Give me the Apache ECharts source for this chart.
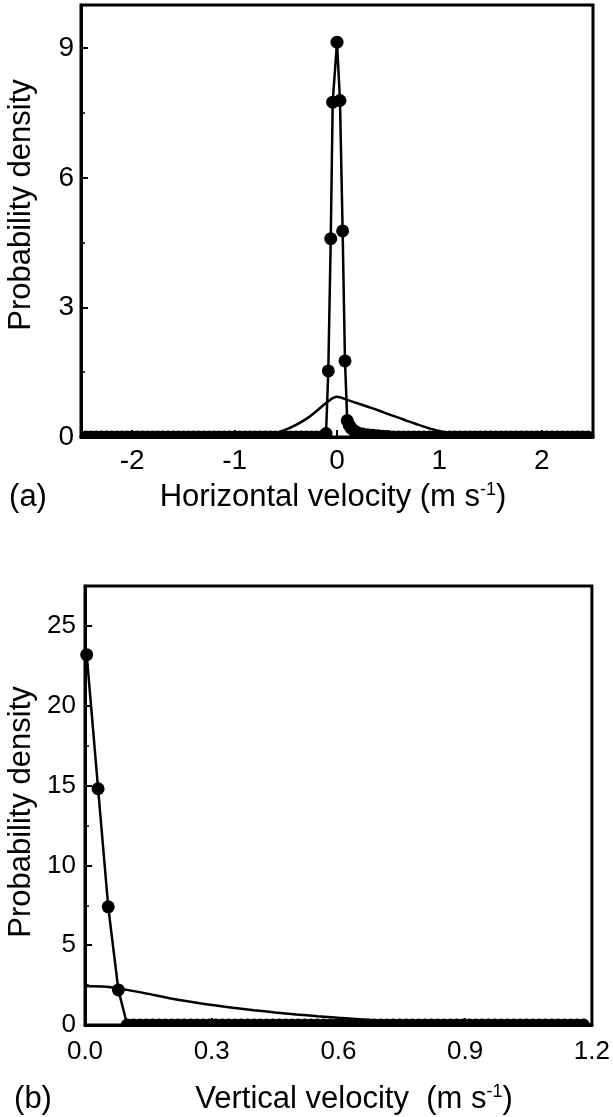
<!DOCTYPE html>
<html><head><meta charset="utf-8">
<script src="https://cdn.jsdelivr.net/npm/echarts@6/dist/echarts.min.js"></script>
<style>html,body{margin:0;padding:0;background:#fff}#c{width:613px;height:1117px}</style>
</head><body><div id="c"></div>
<script>
// ---------- Panel (a): horizontal velocity ----------
const hDotX = [-2.45,-2.40,-2.35,-2.30,-2.25,-2.20,-2.15,-2.10,-2.05,-2.00,-1.95,-1.90,-1.85,-1.80,-1.75,-1.70,-1.65,-1.60,-1.55,-1.50,-1.45,-1.40,-1.35,-1.30,-1.25,-1.20,-1.15,-1.10,-1.05,-1.00,-0.95,-0.90,-0.85,-0.80,-0.75,-0.70,-0.65,-0.60,-0.55,-0.50,-0.45,-0.40,-0.35,-0.30,-0.25,-0.20,-0.15,
  -0.130,-0.107,-0.085,-0.061,-0.042,0.000,0.029,0.055,0.078,0.100,0.120,0.140,0.170,0.200,0.250,0.300,0.350,0.400,0.450,0.500,
  0.55,0.60,0.65,0.70,0.75,0.80,0.85,0.90,0.95,1.00,1.05,1.10,1.15,1.20,1.25,1.30,1.35,1.40,1.45,1.50,1.55,1.60,1.65,1.70,1.75,1.80,1.85,1.90,1.95,2.00,2.05,2.10,2.15,2.20,2.25,2.30,2.35,2.40,2.45];
const hDotY = [0,0,0,0,0,0,0,0,0,0,0,0,0,0,0,0,0,0,0,0,0,0,0,0,0,0,0,0,0,0,0,0,0,0,0,0,0,0,0,0,0,0,0,0,0,0,0,
  0.02,0.08,1.53,4.59,7.75,9.14,7.79,4.77,1.76,0.38,0.27,0.20,0.14,0.10,0.07,0.05,0.04,0.03,0.02,0.01,
  0,0,0,0,0,0,0,0,0,0,0,0,0,0,0,0,0,0,0,0,0,0,0,0,0,0,0,0,0,0,0,0,0,0,0,0,0,0,0];
const hCurveX = [-2.5,-2.4,-2.3,-2.2,-2.1,-2.0,-1.9,-1.8,-1.7,-1.6,-1.5,-1.4,-1.3,-1.2,-1.1,-1.0,-0.9,-0.8,-0.7,-0.6,-0.5,-0.4,-0.3,-0.2,-0.1,0.0,0.1,0.2,0.3,0.4,0.5,0.6,0.7,0.8,0.9,1.0,1.1,1.2,1.3,1.4,1.5,1.6,1.7,1.8,1.9,2.0,2.1,2.2,2.3,2.4,2.5];
const hCurveY = [0,0,0,0,0,0,0,0,0,0,0,0,0,0,0,0,0,0.01,0.04,0.09,0.17,0.28,0.42,0.60,0.80,0.93,0.86,0.78,0.70,0.62,0.53,0.45,0.36,0.28,0.20,0.14,0.09,0.05,0.02,0.01,0,0,0,0,0,0,0,0,0,0,0];
const hXTicks = [-2,-1,0,1,2];

// ---------- Panel (b): vertical velocity ----------
const vDotX = [0.004,0.031,0.055,0.079,
  0.100,0.115,0.130,0.145,0.160,0.175,0.190,0.205,0.220,0.235,0.250,0.265,0.280,0.295,0.310,0.325,0.340,0.355,0.370,0.385,0.400,0.415,0.430,0.445,0.460,0.475,0.490,0.505,0.520,0.535,0.550,0.565,0.580,0.595,0.610,0.625,0.640,0.655,0.670,0.685,0.700,0.715,0.730,0.745,0.760,0.775,0.790,0.805,0.820,0.835,0.850,0.865,0.880,0.895,0.910,0.925,0.940,0.955,0.970,0.985,1.000,1.015,1.030,1.045,1.060,1.075,1.090,1.105,1.120,1.135,1.150,1.165,1.180];
const vDotY = [23.2,14.8,7.4,2.2,
  0,0,0,0,0,0,0,0,0,0,0,0,0,0,0,0,0,0,0,0,0,0,0,0,0,0,0,0,0,0,0,0,0,0,0,0,0,0,0,0,0,0,0,0,0,0,0,0,0,0,0,0,0,0,0,0,0,0,0,0,0,0,0,0,0,0,0,0,0,0,0,0,0];
const vCurveX = [0,0.05,0.10,0.15,0.20,0.25,0.30,0.35,0.40,0.45,0.50,0.55,0.60,0.65,0.70,0.75,0.80,0.85,0.90,0.95,1.00,1.05,1.10,1.15,1.20];
const vCurveY = [2.45,2.40,2.20,1.95,1.68,1.45,1.25,1.08,0.93,0.79,0.66,0.55,0.45,0.36,0.28,0.21,0.15,0.11,0.08,0.05,0.03,0.02,0.01,0.01,0];

const FONT = '"Liberation Sans", Arial, Helvetica, sans-serif';
const BLACK = '#000';
const DOT = 13;
const zip = (xs, ys) => xs.map((x, i) => [x, ys[i]]);
const dotStyle = {color: BLACK, borderColor: BLACK, borderWidth: 0, opacity: 1};

const chart = echarts.init(document.getElementById('c'), null, {renderer: 'canvas'});

const axisLineStyle = {show: true, onZero: false, lineStyle: {color: BLACK, width: 3}};
const tickStyle = {show: true, inside: true, length: 7, lineStyle: {color: BLACK, width: 2}};
const minorStyle = {show: true, splitNumber: 2, length: 4, lineStyle: {color: BLACK, width: 1.5}};
const titleFont = '31px ' + FONT;

function textEl(txt, x, y, rot) {
  return {type: 'text', z: 100, x: x, y: y, rotation: rot || 0,
    style: {text: txt, font: titleFont, fill: BLACK, align: 'center', verticalAlign: 'middle', textAlign: 'center', textVerticalAlign: 'middle'}};
}
function supTitle(main, x, y) {
  return {type: 'text', z: 100, x: x, y: y,
    style: {text: '{m|' + main + '}{s|-1}{m|)}', align: 'center', verticalAlign: 'middle', textAlign: 'center', textVerticalAlign: 'middle',
      rich: {m: {font: titleFont, fill: BLACK, verticalAlign: 'bottom'}, s: {font: '18px ' + FONT, fill: BLACK, verticalAlign: 'top'}}}};
}
// connecting line of the measured distribution
function dotLine(xi, data) {
  return {type: 'line', xAxisIndex: xi, yAxisIndex: xi, data: data, clip: false,
    showSymbol: false, symbol: 'none',
    lineStyle: {color: BLACK, width: 2.5}, emphasis: {disabled: true}, z: 3};
}
// filled dots of the measured distribution (lower parts under the frame are masked)
function dotMarks(xi, data) {
  return {type: 'scatter', xAxisIndex: xi, yAxisIndex: xi, data: data, clip: false,
    symbol: 'circle', symbolSize: DOT, itemStyle: dotStyle, emphasis: {disabled: true}, z: 4};
}
function curve(xi, data, smooth) {
  return {type: 'line', xAxisIndex: xi, yAxisIndex: xi, data: data, smooth: smooth,
    showSymbol: false, symbol: 'none', lineStyle: {color: BLACK, width: 2.5}, emphasis: {disabled: true}, z: 2};
}

const option = {
  animation: false,
  backgroundColor: '#fff',
  grid: [
    {left: 81, top: 5, width: 512, height: 432, show: true, borderColor: BLACK, borderWidth: 3, backgroundColor: 'transparent'},
    {left: 85, top: 586, width: 507, height: 439, show: true, borderColor: BLACK, borderWidth: 3, backgroundColor: 'transparent'}
  ],
  xAxis: [
    {gridIndex: 0, type: 'value', min: -2.5, max: 2.5, z: 100,
     axisLine: axisLineStyle, splitLine: {show: false},
     axisTick: Object.assign({}, tickStyle, {customValues: hXTicks}),
     axisLabel: {customValues: hXTicks, margin: 10, color: BLACK, fontSize: 28, fontFamily: FONT}},
    {gridIndex: 1, type: 'value', min: 0, max: 1.2, interval: 0.3, z: 100,
     axisLine: axisLineStyle, splitLine: {show: false}, axisTick: tickStyle,
     axisLabel: {margin: 14, color: BLACK, fontSize: 26, fontFamily: FONT, formatter: v => v.toFixed(1)}}
  ],
  yAxis: [
    {gridIndex: 0, type: 'value', min: 0, max: 10, interval: 3, z: 100,
     axisLine: axisLineStyle, splitLine: {show: false}, axisTick: tickStyle, minorTick: minorStyle,
     axisLabel: {showMaxLabel: false, margin: 7, color: BLACK, fontSize: 28, fontFamily: FONT}},
    {gridIndex: 1, type: 'value', min: 0, max: 27.5, interval: 5, z: 100,
     axisLine: axisLineStyle, splitLine: {show: false}, axisTick: tickStyle, minorTick: minorStyle,
     axisLabel: {showMaxLabel: false, margin: 9, color: BLACK, fontSize: 26, fontFamily: FONT}}
  ],
  series: [
    curve(0, zip(hCurveX, hCurveY), 0.35),
    dotLine(0, zip(hDotX, hDotY)),
    dotMarks(0, zip(hDotX, hDotY)),
    curve(1, zip(vCurveX, vCurveY), 0.3),
    dotLine(1, zip(vDotX, vDotY)),
    dotMarks(1, zip(vDotX, vDotY))
  ],
  graphic: [
    // white masks just below the bottom frame lines: dots on the frame show only their upper half, as in the original
    {type: 'rect', z: 50, silent: true, shape: {x: 74, y: 438.5, width: 526, height: 9}, style: {fill: '#fff'}},
    {type: 'rect', z: 50, silent: true, shape: {x: 78, y: 1026.5, width: 521, height: 9}, style: {fill: '#fff'}},
    textEl('Probability density', 21, 205, Math.PI / 2),
    textEl('Probability density', 21, 812, Math.PI / 2),
    supTitle('Horizontal velocity (m s', 333, 497),
    supTitle('Vertical velocity  (m s', 354, 1099),
    textEl('(a)', 28, 497),
    textEl('(b)', 33, 1099)
  ]
};
chart.setOption(option);
</script>
</body></html>
